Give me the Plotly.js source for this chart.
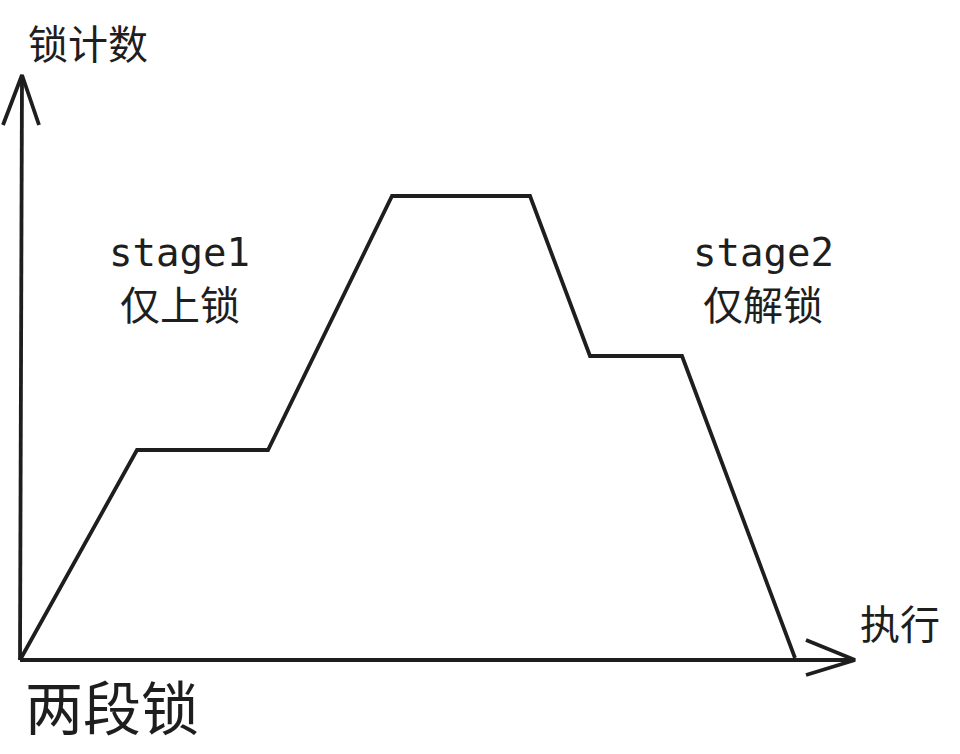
<!DOCTYPE html>
<html>
<head>
<meta charset="utf-8">
<script src="https://cdn.plot.ly/plotly-3.0.1.min.js"></script>
<style>html,body{margin:0;padding:0;background:#fff;}#chart{width:960px;height:754px;}</style>
</head>
<body>
<div id="chart"></div>
<script>
// Execution progress (x) vs lock count (y), sketch units
const stepX = [0, 117, 248, 372, 510, 570, 662, 775];
const lockCount = [0, 210, 210, 464, 464, 304, 304, 2];

// Axis arrows (sketch units)
const yAxisX = [0, 2];
const yAxisY = [0, 585];
const yHeadX = [-17, 2, 19];
const yHeadY = [535, 585, 535];
const xAxisX = [0, 835];
const xAxisY = [0, 0];
const xHeadX = [786, 835, 786];
const xHeadY = [20, 0, -15];

const labels = ["锁计数", "执行", "两段锁", "stage1", "仅上锁", "stage2", "仅解锁"];
const labelX = [68, 880, 92, 159, 160, 743, 743];
const labelY = [618, 38, -45, 408, 357, 408, 357];

const ink = '#1e1e1e';
const lineStyle = {color: ink, width: 3.8, shape: 'linear'};

const traces = [
  {x: yAxisX, y: yAxisY, mode: 'lines', line: lineStyle, hoverinfo: 'skip'},
  {x: yHeadX, y: yHeadY, mode: 'lines', line: lineStyle, hoverinfo: 'skip'},
  {x: xAxisX, y: xAxisY, mode: 'lines', line: lineStyle, hoverinfo: 'skip'},
  {x: xHeadX, y: xHeadY, mode: 'lines', line: lineStyle, hoverinfo: 'skip'},
  {x: stepX, y: lockCount, mode: 'lines', line: lineStyle, hoverinfo: 'skip'}
];

const cjk = '"Noto Sans CJK SC", "Noto Sans", sans-serif';
const mono = '"DejaVu Sans Mono", "Liberation Mono", monospace';
const fontFor = i => {
  if (labels[i].startsWith('stage')) return {family: mono, size: 39, color: ink};
  if (labels[i] === '两段锁') return {family: cjk, size: 58, color: ink};
  return {family: cjk, size: 40, color: ink};
};

const annotations = labels.map((t, i) => ({
  x: labelX[i], y: labelY[i], xref: 'x', yref: 'y', text: t, showarrow: false,
  xanchor: 'center', yanchor: 'middle', borderpad: 0, font: fontFor(i)
}));

const layout = {
  width: 960, height: 754,
  margin: {l: 0, r: 0, t: 0, b: 0},
  paper_bgcolor: '#ffffff', plot_bgcolor: '#ffffff',
  showlegend: false,
  xaxis: {range: [-20, 940], visible: false, fixedrange: true},
  yaxis: {range: [-94, 660], visible: false, fixedrange: true},
  annotations: annotations
};

Plotly.newPlot('chart', traces, layout, {staticPlot: true, displayModeBar: false});
</script>
</body>
</html>
